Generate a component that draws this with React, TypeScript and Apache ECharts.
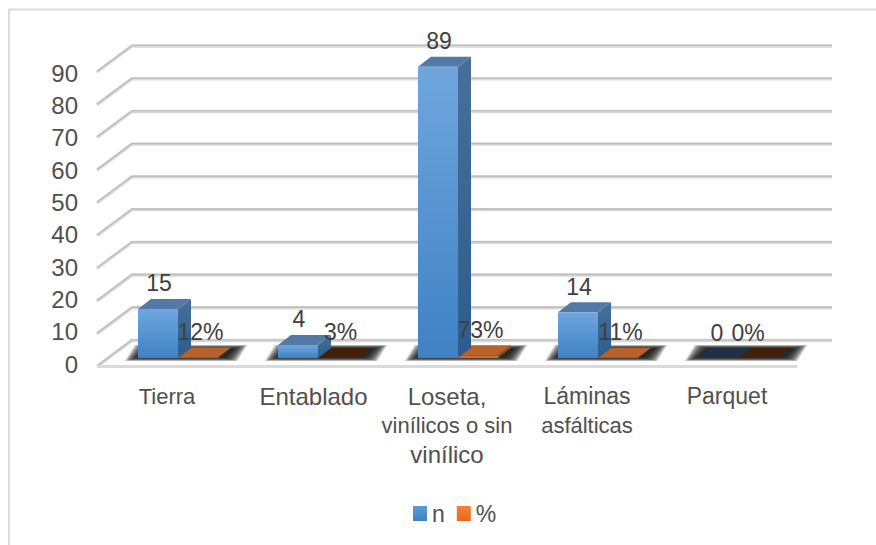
import React, { useEffect, useRef } from "react";
import * as echarts from "echarts";

const categories = ["Tierra", "Entablado", "Loseta,\nvinílicos o sin\nvinílico", "Láminas\nasfálticas", "Parquet"];
const countValues = [15, 4, 89, 14, 0];
const shareValues = [0.12, 0.03, 0.73, 0.11, 0];
const gridTicks = [0, 10, 20, 30, 40, 50, 60, 70, 80, 90];

const FONT = "'Liberation Sans', Arial, sans-serif";
const DX = 35, DY = 26;          // wall depth
const BAR_DX = 13, BAR_DY = 10;  // bar depth
const FLOOR_DY = 8.5;            // bars stand behind the front edge
const GROUP_DX = 11;
const BAR_FRACTION = 40 / 140;

const lineSizes: Record<string, number> = {
  Tierra: 22, Entablado: 24, "Loseta,": 24, "vinílicos o sin": 22, "vinílico": 24,
  "Láminas": 23, "asfálticas": 22, Parquet: 23,
};

const vgrad = (a: string, b: string) =>
  new echarts.graphic.LinearGradient(0, 0, 0, 1, [{ offset: 0, color: a }, { offset: 1, color: b }]);

function gridItem(params: any, api: any) {
  const v = api.value(0);
  const y = api.coord([0, v])[1];
  const cs = params.coordSys;
  const left = cs.x;
  const pts = [[left, y], [left + DX, y - DY], [left + cs.width + DX, y - DY]];
  const children: any[] = [
    { type: "polyline", shape: { points: pts }, style: { fill: "none", stroke: "#dadada", lineWidth: 3.4 } },
    { type: "polyline", shape: { points: pts.map(([a, b]) => [a, b - 0.6]) }, style: { fill: "none", stroke: "#bdbdbd", lineWidth: 1.4 } },
  ];
  if (v === 0) {
    children.push({ type: "line", shape: { x1: left, y1: y, x2: left + cs.width, y2: y }, style: { stroke: "#dadada", lineWidth: 3 } });
  }
  return { type: "group", children };
}

function shadowItem(_params: any, api: any) {
  const i = api.value(0);
  const [cx, y0] = api.coord([i, 0]);
  const w = api.size([1, 0])[0] * BAR_FRACTION;
  const mid = cx + GROUP_DX;
  const base = y0 - FLOOR_DY;
  const L = mid - w, R = mid + w;
  const children: any[] = [];
  for (let k = 0; k < 9; k++) {
    const e = 14 - k * 1.6;
    const ey = e * 0.28;
    children.push({
      type: "polygon",
      shape: {
        points: [
          [L + 1 - e, base + ey - 1],
          [L + 11 - e, base - 9 - ey],
          [R + 15 + e, base - 9 - ey],
          [R + 5 + e, base + ey - 1],
        ],
      },
      style: { fill: "rgba(20,20,20,0.24)" },
    });
  }
  return { type: "group", children };
}

function makeBar(side: 0 | 1) {
  return (_params: any, api: any) => {
    const i = api.value(0);
    const v = api.value(1);
    const [cx, y0] = api.coord([i, 0]);
    const yv = api.coord([i, v])[1];
    const w = api.size([1, 0])[0] * BAR_FRACTION;
    const left = cx + GROUP_DX - w + side * w;
    const base = y0 - FLOOR_DY;
    const top = yv - FLOOR_DY;
    const dark = v < 0.1;
    const palette = side === 0
      ? { front: vgrad("#6fa6de", "#3f82c4"), top: dark ? "#1f3047" : "#527aa6", right: vgrad("#486f99", "#2b5d8e") }
      : { front: "#d56a2a", top: dark ? "#42200c" : "#b8622a", right: "#8a4a1c" };
    return {
      type: "group",
      children: [
        { type: "polygon", shape: { points: [[left, top], [left + BAR_DX, top - BAR_DY], [left + w + BAR_DX, top - BAR_DY], [left + w, top]] }, style: { fill: palette.top } },
        { type: "polygon", shape: { points: [[left + w, top], [left + w + BAR_DX, top - BAR_DY], [left + w + BAR_DX, base - BAR_DY], [left + w, base]] }, style: { fill: palette.right } },
        { type: "rect", shape: { x: left, y: top, width: w, height: base - top }, style: { fill: palette.front } },
      ],
    };
  };
}

function makeLabel(side: 0 | 1) {
  return (_params: any, api: any) => {
    const i = api.value(0);
    const v = api.value(1);
    const [cx] = api.coord([i, 0]);
    const yv = api.coord([i, v])[1];
    const w = api.size([1, 0])[0] * BAR_FRACTION;
    const left = cx + GROUP_DX - w + side * w;
    const top = yv - FLOOR_DY;
    const lbl = side === 0 ? String(v) : Math.round(v * 100) + "%";
    const nudge = side === 0 ? (v === 0 ? -1 : 1) : v === 0 ? -10 : 2.5;
    return {
      type: "text",
      x: left + w / 2 + nudge,
      y: top - 25.5,
      style: { text: lbl, fill: "#404040", font: `23px ${FONT}`, align: "center", verticalAlign: "middle" },
    };
  };
}

function categoryFormatter(value: string) {
  return value
    .split("\n")
    .map((line) => `{s${lineSizes[line] ?? 22}${line === "Entablado" ? "e" : ""}|${line}}`)
    .join("\n");
}

const richStyle = (size: number) => ({ fontSize: size, lineHeight: 29, color: "#505050", fontFamily: FONT });

export default function App() {
  const ref = useRef<HTMLDivElement>(null);
  useEffect(() => {
    const chart = echarts.init(ref.current!, undefined, { renderer: "svg" });
    const catIdx = categories.map((_, i) => i);
    chart.setOption({
      animation: false,
      backgroundColor: "#ffffff",
      textStyle: { fontFamily: FONT },
      grid: [
        { left: 97, top: 72, width: 700, height: 294.5 },
        { left: 97, top: 73, width: 700, height: 291 },
      ],
      xAxis: [
        {
          type: "category",
          gridIndex: 0,
          data: categories,
          axisLine: { show: false },
          axisTick: { show: false },
          axisLabel: {
            interval: 0,
            margin: 15,
            color: "#505050",
            fontSize: 22,
            lineHeight: 29,
            fontFamily: FONT,
            formatter: categoryFormatter,
            rich: {
              s22: richStyle(22),
              s23: richStyle(23),
              s24: richStyle(24),
              s24e: { ...richStyle(24), padding: [0, 0, 0, 13] },
            },
          },
        },
        { type: "category", gridIndex: 1, data: categories, show: false },
      ],
      yAxis: [
        { type: "value", gridIndex: 0, min: 0, max: 90, interval: 10, show: false },
        {
          type: "value",
          gridIndex: 1,
          min: 0,
          max: 90,
          interval: 10,
          axisLine: { show: false },
          axisTick: { show: false },
          splitLine: { show: false },
          axisLabel: { margin: 19, color: "#505050", fontSize: 24, fontFamily: FONT },
        },
      ],
      legend: {
        left: 408,
        top: 497,
        itemWidth: 14,
        itemHeight: 15,
        itemGap: 12,
        icon: "rect",
        data: ["n", "%"],
        textStyle: { color: "#505050", fontSize: 23, fontFamily: FONT },
      },
      series: [
        { type: "custom", name: "grid", silent: true, z: 1, renderItem: gridItem, data: gridTicks.map((t) => [t]), encode: { y: 0 } },
        { type: "custom", name: "floor", silent: true, z: 2, renderItem: shadowItem, data: catIdx.map((i) => [i, 0]) },
        { type: "custom", name: "%", z: 3, itemStyle: { color: vgrad("#f5823a", "#e8691c") }, renderItem: makeBar(1), data: shareValues.map((v, i) => [i, v]) },
        { type: "custom", name: "n", z: 4, itemStyle: { color: vgrad("#5b9bd5", "#3f82c4") }, renderItem: makeBar(0), data: countValues.map((v, i) => [i, v]) },
        { type: "custom", name: "nLabels", z: 5, silent: true, renderItem: makeLabel(0), data: countValues.map((v, i) => [i, v]) },
        { type: "custom", name: "shareLabels", z: 5, silent: true, renderItem: makeLabel(1), data: shareValues.map((v, i) => [i, v]) },
      ],
      graphic: [
        { type: "line", silent: true, shape: { x1: 8, y1: 9.5, x2: 876, y2: 9.5 }, style: { stroke: "#dcdcdc", lineWidth: 2 } },
        { type: "line", silent: true, shape: { x1: 9, y1: 9, x2: 9, y2: 545 }, style: { stroke: "#dcdcdc", lineWidth: 2 } },
      ],
    });
    return () => chart.dispose();
  }, []);
  return <div ref={ref} style={{ position: "absolute", left: 0, top: 0, width: 876, height: 545 }} />;
}
